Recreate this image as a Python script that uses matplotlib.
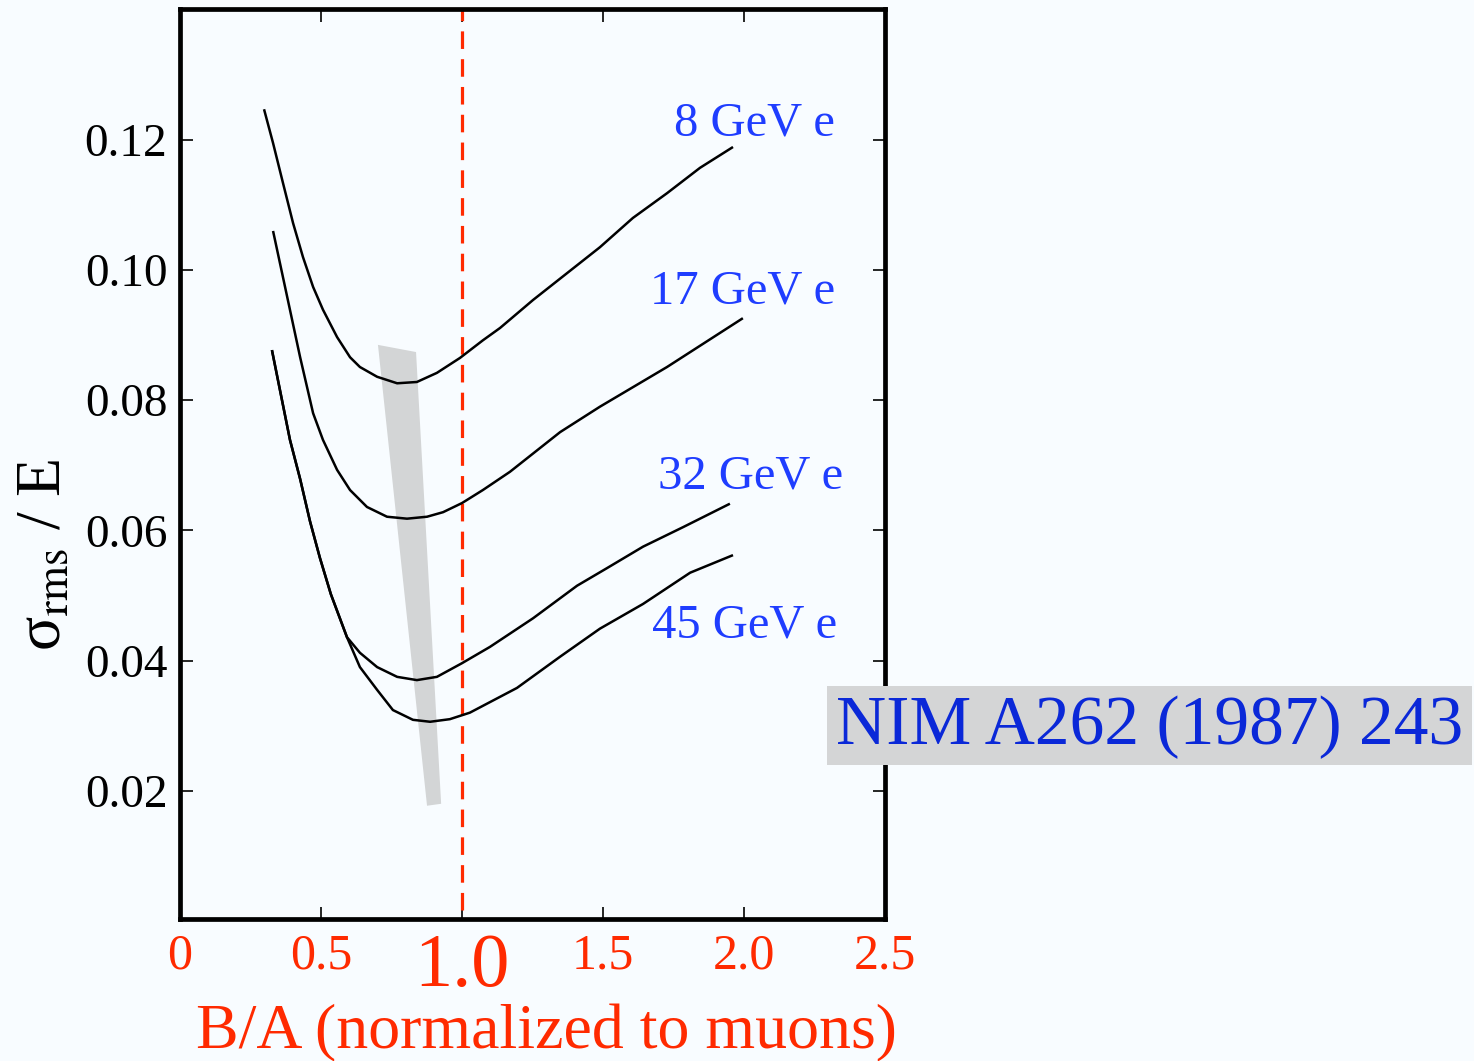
import matplotlib
matplotlib.use("Agg")
import matplotlib.pyplot as plt
from matplotlib.patches import Rectangle

plt.rcParams['font.family'] = ['Liberation Serif', 'DejaVu Serif']
plt.rcParams['mathtext.fontset'] = 'stix'

# curves (B/A, sigma_rms/E)
x_8gev = [0.298, 0.330, 0.365, 0.401, 0.436, 0.472, 0.507, 0.557, 0.603, 0.638,
          0.699, 0.770, 0.840, 0.911, 0.993, 1.074, 1.135, 1.252, 1.489, 1.606,
          1.727, 1.844, 1.961]
y_8gev = [0.1247, 0.1195, 0.1134, 0.1072, 0.1020, 0.0974, 0.0939, 0.0897, 0.0866, 0.0851,
          0.0836, 0.0826, 0.0828, 0.0842, 0.0865, 0.0892, 0.0911, 0.0954, 0.1035, 0.1080,
          0.1118, 0.1157, 0.1189]

x_17gev = [0.330, 0.426, 0.472, 0.507, 0.557, 0.603, 0.663, 0.734, 0.805, 0.876,
           0.933, 1.000, 1.074, 1.170, 1.348, 1.489, 1.727, 1.996]
y_17gev = [0.1060, 0.0866, 0.0780, 0.0739, 0.0693, 0.0662, 0.0636, 0.0621, 0.0618, 0.0621,
           0.0628, 0.0642, 0.0662, 0.0690, 0.0751, 0.0790, 0.0851, 0.0926]

x_32gev = [0.326, 0.390, 0.426, 0.461, 0.496, 0.535, 0.592, 0.638, 0.699, 0.770,
           0.840, 0.911, 1.000, 1.099, 1.252, 1.408, 1.514, 1.642, 1.784, 1.950]
y_32gev = [0.0877, 0.0739, 0.0679, 0.0614, 0.0558, 0.0502, 0.0436, 0.0412, 0.0390, 0.0375,
           0.0370, 0.0375, 0.0396, 0.0421, 0.0465, 0.0515, 0.0542, 0.0575, 0.0605, 0.0641]

x_45gev = [0.326, 0.390, 0.426, 0.461, 0.496, 0.535, 0.592, 0.638, 0.699, 0.755,
           0.826, 0.887, 0.957, 1.028, 1.195, 1.348, 1.489, 1.642, 1.809, 1.961]
y_45gev = [0.0877, 0.0739, 0.0679, 0.0614, 0.0558, 0.0502, 0.0436, 0.0390, 0.0355, 0.0324,
           0.0309, 0.0306, 0.0310, 0.0320, 0.0358, 0.0406, 0.0449, 0.0487, 0.0535, 0.0562]

# grey band marking the minima
band_x = [0.702, 0.837, 0.926, 0.876]
band_y = [0.0885, 0.0874, 0.0180, 0.0177]

labels = ["8 GeV e", "17 GeV e", "32 GeV e", "45 GeV e"]
label_x = [2.323, 2.323, 2.351, 2.330]
label_y = [0.1206, 0.0949, 0.0665, 0.0435]

xticks = [0, 0.5, 1.0, 1.5, 2.0, 2.5]
xticklabels = ["0", "0.5", "1.0", "1.5", "2.0", "2.5"]
yticks = [0.02, 0.04, 0.06, 0.08, 0.10, 0.12]
yticklabels = ["0.02", "0.04", "0.06", "0.08", "0.10", "0.12"]

bg = '#f8fcff'
red = '#ff2a00'
blue = '#1f3dff'

fig = plt.figure(figsize=(14.74, 10.61), dpi=100, facecolor=bg)
ax = fig.add_axes([180/1474, 1-919/1061, 705/1474, 910/1061], facecolor=bg)

ax.fill(band_x, band_y, color='#d3d5d6', lw=0, zorder=1)

for xs, ys in [(x_8gev, y_8gev), (x_17gev, y_17gev), (x_32gev, y_32gev), (x_45gev, y_45gev)]:
    ax.plot(xs, ys, color='black', lw=1.8, zorder=3,
            solid_joinstyle='round', solid_capstyle='butt')

ax.axvline(1.0, ymin=0.01, ymax=1, color=red, lw=2.3, ls=(0, (5.5, 3.2)), zorder=2)

for t, lx, ly in zip(labels, label_x, label_y):
    ax.text(lx, ly, t, color=blue, fontsize=35, ha='right', va='baseline')

ax.set_xlim(0, 2.5)
ax.set_ylim(0.0003, 0.1401)

ax.set_xticks(xticks)
ax.set_xticklabels(xticklabels)
ax.set_yticks(yticks)
ax.set_yticklabels(yticklabels)

ax.tick_params(direction='in', length=9, width=1.2, top=True, right=True)
ax.tick_params(axis='y', labelsize=34, pad=9, labelcolor='black')
ax.tick_params(axis='x', labelsize=36, pad=10, labelcolor=red)
for lab in ax.get_xticklabels():
    if lab.get_text() == "1.0":
        lab.set_fontsize(55)

for s in ax.spines.values():
    s.set_linewidth(3.4)

fig.text(546/1474, 1-1033/1061, "B/A (normalized to muons)", color=red, fontsize=46,
         ha='center', va='center')
fig.text(45/1474, 1-555/1061, r"σ$_{\rm rms}$ / E", color='black', fontsize=46,
         rotation=90, ha='center', va='center')

# reference tag
fig.patches.append(Rectangle((827/1474, 1-765/1061), 645/1474, 79/1061,
                             transform=fig.transFigure, facecolor='#d4d5d6',
                             edgecolor='none', zorder=5))
fig.text(1150/1474, 1-727/1061, "NIM A262 (1987) 243", color='#0a28d8', fontsize=50,
         ha='center', va='center', zorder=6)

fig.savefig("out.png", dpi=100, facecolor=bg)
